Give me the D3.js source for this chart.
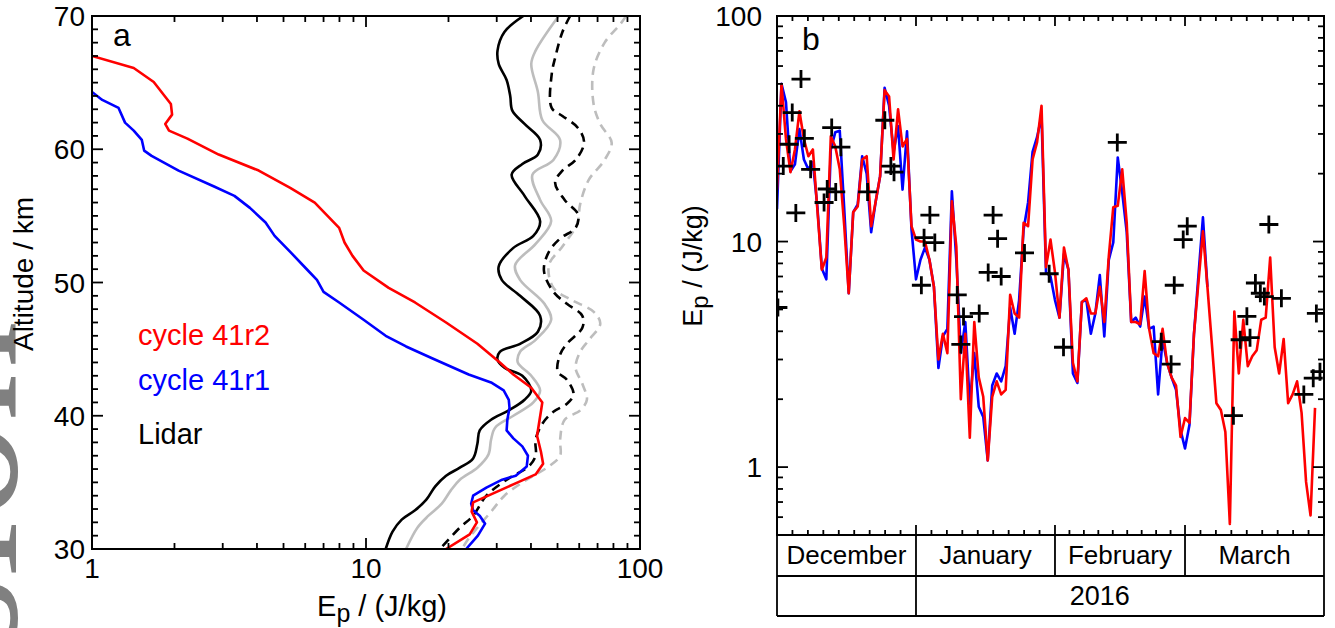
<!DOCTYPE html>
<html><head><meta charset="utf-8">
<script src="https://cdn.jsdelivr.net/npm/d3@7"></script>
<style>
body{margin:0;background:#fff}
svg{display:block}
text{font-family:"Liberation Sans",Arial,Helvetica,sans-serif;fill:#000}
</style>
</head><body>
<svg id="c" width="1335" height="628"></svg>
<script>
// ---------------- Panel a data: Ep profiles vs altitude ----------------
const ep41r2  = [1,1.42,1.68,1.94,1.96,1.85,1.91,2.23,2.90,4.06,5.29,6.5,7.98,8.35,8.93,9.8,12.1,15.1,19.6,25.5,30.8,34.5,40.1,44.0,43.7,42.1,43.5,44.3,41.6,35.8,28.6,24.6,24.3,25.4,23.9,19.6];
const alt41r2 = [67.0,66.1,65.05,63.4,62.6,61.9,61.4,60.8,59.6,58.4,57.1,56.0,54.1,53.0,52.0,50.9,49.6,48.5,47.0,45.4,44.0,43.1,42.1,41.0,40.6,38.5,37.3,36.4,35.6,35.0,34.1,33.5,32.8,32.0,31.1,30.0];
const ep41r1  = [1,1.09,1.25,1.32,1.42,1.52,1.55,1.65,2.07,2.79,3.31,3.77,4.30,4.64,5.29,6.14,6.62,7.0,7.98,9.8,11.8,14.0,17.5,23.7,28.6,31.8,33.2,33.4,32.8,32.6,34.5,37.2,39.0,38.6,35.2,31.4,27.5,24.6,24.2,24.6,26.0,27.2,25.6,23.2];
const alt41r1 = [64.3,63.7,63.1,62.0,61.4,60.7,59.9,59.5,58.4,57.2,56.5,55.6,54.5,53.5,52.3,50.9,50.2,49.3,48.5,47.2,46.0,45.2,44.3,43.1,42.5,41.9,41.2,40.6,39.7,38.9,38.3,37.7,37.0,36.2,35.5,35.2,34.6,34.0,33.4,32.9,32.5,31.9,31.0,30.0];
const epLidar  = [37.5,32.0,30.2,30.5,32.6,33.6,34.2,37.9,43.2,42.4,37.2,34.0,37.9,43.2,40.8,34.5,30.5,31.3,36.5,43.2,42.4,36.5,30.8,30.2,32.0,37.2,40.1,37.9,33.2,28.6,26.0,25.5,24.6,22.0,19.6,17.9,16.6,15.1,13.5,12.5,11.8];
const altLidar = [70,68.8,67.4,66.4,65.2,64.0,62.9,61.9,60.7,59.6,58.9,58.1,56.5,54.6,53.5,52.6,51.2,50.2,49.0,47.5,46.3,45.4,44.8,44.2,43.6,43.0,41.9,41.2,40.4,39.7,38.9,37.9,36.8,36.1,35.5,34.7,33.7,32.9,32.2,31.3,30];
const epLidarGray  = [50.5,41.6,40.1,42.4,44.0,51.1,48.3,40.5,43.2,47.4,41.6,35.0,36.5,44.8,47.4,41.6,36.5,35.8,40.1,43.2,40.8,34.5,29.6,28.6,28.0,25.5,22.0,20.4,18.9,16.9,15.4,14.0];
const altLidarGray = [70,67.4,66.4,64.3,62.2,60.7,59.2,58.1,56.2,54.6,52.9,51.3,50.2,48.4,47.2,45.7,44.8,44.0,43.0,41.9,41.0,40.0,39.1,38.2,37.1,36.1,35.2,34.4,33.4,32.5,31.6,30];
const epLidarDash  = [55.6,52.1,49.2,47.6,47.6,52.1,59.4,62.5,58.2,52.1,49.0,53.1,59.4,58.2,51.1,46.5,44.6,48.3,54.1,61.6,61.6,54.1,51.1,50.1,54.1,57.2,54.1,48.3,44.0,41.6,41.6,39.3,33.2,27.5,24.6,22.0,18.6];
const altLidarDash = [70,68.8,67.0,65.6,63.1,62.5,61.6,60.5,59.2,58.4,57.5,56.2,55.1,54.1,53.3,52.3,50.9,49.3,48.4,47.5,46.6,45.4,44.6,43.3,42.7,41.6,40.9,40.3,39.4,38.2,37.0,36.2,35.3,34.0,32.5,31.6,30];
const epLidarGrayDash  = [89.0,84.8,74.3,67.7,67.7,71.6,78.8,74.3,65.0,60.5,59.0,52.1,46.5,48.3,56.1,67.8,71.6,65.2,60.5,58.2,61.6,64.0,60.5,53.1,51.1,51.1,46.5,38.6,32.0,28.6,25.5,23.7,22.4];
const altLidarGrayDash = [70,69.4,68.0,66.0,63.4,61.9,60.5,59.2,57.7,55.9,54.4,52.7,51.3,49.6,48.7,47.8,46.9,45.7,44.8,43.6,42.4,41.2,40.4,39.7,38.2,37.0,36.2,35.2,34.0,32.8,31.6,30.8,30];
const legendLabels = ["cycle 41r2","cycle 41r1","Lidar"];
const aXTickLabels = [1,10,100];
const aYTickLabels = [30,40,50,60,70];

// ---------------- Panel b data: daily Ep (Dec 2015 - Mar 2016) ----------------
const modelStart = "2015-12-01";
const ep41r2Daily = [17.0,49.9,28.5,20.3,25.6,37.8,28.5,23.9,25.6,13.9,7.5,8.5,29.3,26.4,20.9,11.7,5.9,13.5,14.3,23.1,23.9,11.7,15.0,19.5,46.9,44.0,23.1,38.6,26.4,28.5,11.7,10.2,10.0,10.0,8.3,6.3,3.0,3.9,3.2,15.1,9.5,2.0,3.9,1.35,4.4,2.5,2.05,1.07,2.05,2.4,2.1,2.2,5.8,4.8,4.6,12.1,11.7,23.1,27.5,40.0,7.7,10.2,7.3,4.6,9.4,7.5,2.9,2.4,5.4,5.6,4.8,4.8,6.3,4.4,8.6,14.2,14.4,20.9,12.1,4.4,4.4,4.3,7.4,4.1,3.2,3.1,4.1,2.9,2.5,2.3,1.36,1.65,1.57,3.9,6.6,11.1,6.3,3.5,1.92,1.79,1.43,0.56,4.9,2.6,4.5,2.8,3.1,3.3,4.5,4.6,8.5,3.4,2.6,3.7,1.92,2.1,2.4,1.74,0.86,0.61,1.83];
const ep41r1Daily = [13.9,50,41.5,20.5,22,31.5,23.1,20.9,22.5,14.3,7.6,6.8,25.6,30.5,31,13.9,5.9,13.5,14.6,23.9,20,11,15,19.5,48,40,25,32.5,17,30.8,11.3,6.8,8.3,9.4,8.3,6.3,2.75,3.8,4.1,16.7,8.3,3.2,4.4,1.9,3.2,1.85,1.67,1.07,2.3,2.6,2.4,2.8,5.1,3.9,5.5,11.3,14.9,25,29,36,7.3,7.0,5.5,4.6,8.8,7.5,2.6,2.36,5.4,5.5,3.9,4.8,7.1,3.8,8.3,9.9,23.6,16.5,11,4.4,4.6,4.2,5.7,4.1,4.2,2.1,3.7,2.9,2.5,2.2,1.46,1.21,1.54,3.9,7.1,12.8,6.3];
// lidar observations: days after 1 Dec 2015 and Ep
const lidarDays = [0.2,1.4,2.7,3.4,4.2,5.35,6.1,7.5,10.5,11.2,12.2,13.1,14.25,20.2,24.05,25.4,26.1,32.2,32.8,34.1,35.2,40.2,41.0,41.6,45.1,47.1,48.2,49.2,50.0,55.2,60.7,63.9,75.9,85.7,87.9,88.6,90.6,91.5,101.8,103.3,104.8,105.5,106.7,107.8,108.7,109.7,112.5,117.5,119.6,120.3,121.1];
const lidarEp   = [5.1,21.6,27,37.3,13.4,52.5,28.7,20.9,14.9,17.1,32,16.6,26.2,16.6,34.5,21.6,20.3,6.4,10.4,13.1,9.9,5.8,3.5,4.65,4.8,7.3,13.1,10.3,7.0,8.9,7.2,3.4,27.5,3.6,2.86,6.4,10.2,11.7,1.69,3.67,4.66,3.75,6.55,5.9,5.7,11.9,5.6,2.1,2.48,4.8,2.65];
const monthLabels = ["December","January","February","March"];
const monthStarts = ["2015-12-01","2016-01-01","2016-02-01","2016-03-01","2016-04-01"];
const yearLabel = "2016";
const yearLabelDate = "2016-02-11";
const bYTickLabels = [1,10,100];
const watermarkText = "Discussion";

// ---------------- drawing ----------------
const svg = d3.select("#c");
const RED="#ff0000", BLUE="#0000ff", GRAY="#bdbdbd";
const DAY = 864e5;
const parse = s => new Date(s + "T00:00:00Z");

// watermark on the left page margin (cut by the page edge, as in the source)
svg.append("clipPath").attr("id","wmclip").append("rect").attr("x",0).attr("y",0).attr("width",18).attr("height",628);
const wm = svg.append("g").attr("clip-path","url(#wmclip)");
wm.append("text").attr("transform","translate(16,1199) rotate(-90)")
  .style("font-family",'"Liberation Serif","DejaVu Serif",serif').attr("font-size",200)
  .style("fill","#808080").text(watermarkText);

// ===== Panel a =====
const ax = d3.scaleLog().domain([1,100]).range([92,640]);
const ay = d3.scaleLinear().domain([30,70]).range([549,16]);
const ga = svg.append("g");
svg.append("clipPath").attr("id","clipA").append("rect")
  .attr("x",ax.range()[0]).attr("y",ay.range()[1]).attr("width",ax.range()[1]-ax.range()[0]).attr("height",ay.range()[0]-ay.range()[1]);

const lineLin = d3.line().x(d=>ax(d[0])).y(d=>ay(d[1]));
const lineSm = d3.line().x(d=>ax(d[0])).y(d=>ay(d[1])).curve(d3.curveCatmullRom.alpha(0.5));
const prof = [
  {ep:epLidarGrayDash, alt:altLidarGrayDash, c:GRAY, dash:"9,6", gen:lineSm},
  {ep:epLidarDash, alt:altLidarDash, c:"#000", dash:"9,6", gen:lineSm},
  {ep:epLidarGray, alt:altLidarGray, c:GRAY, dash:null, gen:lineSm},
  {ep:epLidar, alt:altLidar, c:"#000", dash:null, gen:lineSm},
  {ep:ep41r1, alt:alt41r1, c:BLUE, dash:null, gen:lineLin},
  {ep:ep41r2, alt:alt41r2, c:RED, dash:null, gen:lineLin}
];
const gaLines = ga.append("g").attr("clip-path","url(#clipA)");
prof.forEach(p=>{
  gaLines.append("path").attr("d",p.gen(d3.zip(p.ep,p.alt)))
    .attr("fill","none").attr("stroke",p.c).attr("stroke-width",2.6)
    .attr("stroke-dasharray",p.dash).attr("stroke-linejoin","round");
});

// axes frame & ticks (inward)
const tk = ga.append("g").attr("stroke","#000").attr("stroke-width",1.8);
ax.ticks().forEach(v=>{
  const major = Math.abs(Math.log10(v)-Math.round(Math.log10(v)))<1e-9;
  const L = major?11:6, x=ax(v);
  tk.append("line").attr("x1",x).attr("x2",x).attr("y1",ay(30)).attr("y2",ay(30)-L);
  tk.append("line").attr("x1",x).attr("x2",x).attr("y1",ay(70)).attr("y2",ay(70)+L);
});
d3.range(30,71,1).forEach(v=>{
  const L = v%10===0?11:6, y=ay(v);
  tk.append("line").attr("x1",ax(1)).attr("x2",ax(1)+L).attr("y1",y).attr("y2",y);
  tk.append("line").attr("x1",ax(100)).attr("x2",ax(100)-L).attr("y1",y).attr("y2",y);
});
ga.append("rect").attr("x",ax(1)).attr("y",ay(70)).attr("width",ax(100)-ax(1)).attr("height",ay(30)-ay(70))
  .attr("fill","none").attr("stroke","#000").attr("stroke-width",2);

aXTickLabels.forEach(v=>{
  ga.append("text").attr("x",ax(v)).attr("y",578).attr("text-anchor","middle").attr("font-size",28).text(v);
});
aYTickLabels.forEach(v=>{
  ga.append("text").attr("x",85).attr("y",ay(v)+10).attr("text-anchor","end").attr("font-size",28).text(v);
});
// axis titles
const ta = ga.append("text").attr("x",382).attr("y",616).attr("text-anchor","middle").attr("font-size",29);
ta.append("tspan").text("E");
ta.append("tspan").attr("dy",6).attr("font-size",25).text("p");
ta.append("tspan").attr("dy",-6).text(" / (J/kg)");
ga.append("text").attr("transform","translate(33,274) rotate(-90)").attr("text-anchor","middle").attr("font-size",28).text("Altitude / km");
ga.append("text").attr("x",113).attr("y",46).attr("font-size",32).text("a");
// legend
const legendColors = [RED,BLUE,"#000"];
const legendY = [345,390,444];
legendLabels.forEach((t,i)=>{
  ga.append("text").attr("x",138).attr("y",legendY[i]).attr("font-size",29).style("fill",legendColors[i]).text(t);
});

// ===== Panel b =====
const t0 = parse(monthStarts[0]), t1 = parse(monthStarts[monthStarts.length-1]);
const bx = d3.scaleUtc().domain([t0,t1]).range([777,1324]);
const by = d3.scaleLog().domain([0.5,100]).range([535,16]);
const gb = svg.append("g");
svg.append("clipPath").attr("id","clipB").append("rect")
  .attr("x",bx.range()[0]).attr("y",by.range()[1]).attr("width",bx.range()[1]-bx.range()[0]).attr("height",by.range()[0]-by.range()[1]);
const ms = parse(modelStart).getTime();
const lineB = d3.line().x(d=>bx(new Date(ms + d[0]*DAY))).y(d=>by(d[1]));
const gbLines = gb.append("g").attr("clip-path","url(#clipB)");
gbLines.append("path").attr("d",lineB(ep41r1Daily.map((v,i)=>[i,v])))
  .attr("fill","none").attr("stroke",BLUE).attr("stroke-width",2.6).attr("stroke-linejoin","round");
gbLines.append("path").attr("d",lineB(ep41r2Daily.map((v,i)=>[i,v])))
  .attr("fill","none").attr("stroke",RED).attr("stroke-width",2.6).attr("stroke-linejoin","round");
gbLines.selectAll("path.cross").data(d3.zip(lidarDays,lidarEp)).join("path").attr("class","cross")
  .attr("transform",d=>`translate(${bx(new Date(ms + d[0]*DAY))},${by(d[1])})`)
  .attr("d","M-9.5,0H9.5M0,-9V9").attr("stroke","#000").attr("stroke-width",2.8).attr("fill","none");

const tkb = gb.append("g").attr("stroke","#000").attr("stroke-width",1.8);
by.ticks().filter(v=>v>0.5+1e-9).forEach(v=>{
  const major = Math.abs(Math.log10(v)-Math.round(Math.log10(v)))<1e-9;
  const L = major?11:6, y=by(v);
  tkb.append("line").attr("x1",bx.range()[0]).attr("x2",bx.range()[0]+L).attr("y1",y).attr("y2",y);
  tkb.append("line").attr("x1",bx.range()[1]).attr("x2",bx.range()[1]-L).attr("y1",y).attr("y2",y);
});
const mDates = monthStarts.map(parse);
const yTop = by(100), yBot = by(0.5);
for(let m=0;m<mDates.length-1;m++){
  const a=mDates[m].getTime(), b=mDates[m+1].getTime();
  for(let k=1;k<=8;k++){
    const x = bx(new Date(a+(b-a)*k/9));
    tkb.append("line").attr("x1",x).attr("x2",x).attr("y1",yBot).attr("y2",yBot-5);
    tkb.append("line").attr("x1",x).attr("x2",x).attr("y1",yTop).attr("y2",yTop+5);
  }
  if(m>0){
    const x = bx(mDates[m]);
    tkb.append("line").attr("x1",x).attr("x2",x).attr("y1",yBot).attr("y2",yBot-10);
    tkb.append("line").attr("x1",x).attr("x2",x).attr("y1",yTop).attr("y2",yTop+10);
  }
}
gb.append("rect").attr("x",bx.range()[0]).attr("y",yTop).attr("width",bx.range()[1]-bx.range()[0]).attr("height",yBot-yTop)
  .attr("fill","none").attr("stroke","#000").attr("stroke-width",2);

// date table below
const row1 = 576, row2 = 616;
const tb = gb.append("g").attr("stroke","#000").attr("stroke-width",1.8);
tb.append("line").attr("x1",bx.range()[0]).attr("x2",bx.range()[1]).attr("y1",row1).attr("y2",row1);
tb.append("line").attr("x1",bx.range()[0]).attr("x2",bx.range()[1]).attr("y1",row2).attr("y2",row2);
tb.append("line").attr("x1",bx.range()[0]).attr("x2",bx.range()[0]).attr("y1",yBot).attr("y2",row2);
tb.append("line").attr("x1",bx.range()[1]).attr("x2",bx.range()[1]).attr("y1",yBot).attr("y2",row2);
mDates.slice(1,-1).forEach((d,i)=>{
  const x=bx(d);
  tb.append("line").attr("x1",x).attr("x2",x).attr("y1",yBot).attr("y2",i===0?row2:row1);
});
monthLabels.forEach((t,i)=>{
  const x=(bx(mDates[i])+bx(mDates[i+1]))/2;
  gb.append("text").attr("x",x).attr("y",564).attr("text-anchor","middle").attr("font-size",26).text(t);
});
gb.append("text").attr("x",bx(parse(yearLabelDate))).attr("y",605).attr("text-anchor","middle").attr("font-size",27).text(yearLabel);

bYTickLabels.forEach(v=>{
  gb.append("text").attr("x",762).attr("y",by(v)+10).attr("text-anchor","end").attr("font-size",28).text(v);
});
const tbT = gb.append("text").attr("transform","translate(702,266) rotate(-90)").attr("text-anchor","middle").attr("font-size",27);
tbT.append("tspan").text("E");
tbT.append("tspan").attr("dy",6).attr("font-size",24).text("p");
tbT.append("tspan").attr("dy",-6).text(" / (J/kg)");
gb.append("text").attr("x",802).attr("y",50).attr("font-size",32).text("b");
</script>
</body></html>
